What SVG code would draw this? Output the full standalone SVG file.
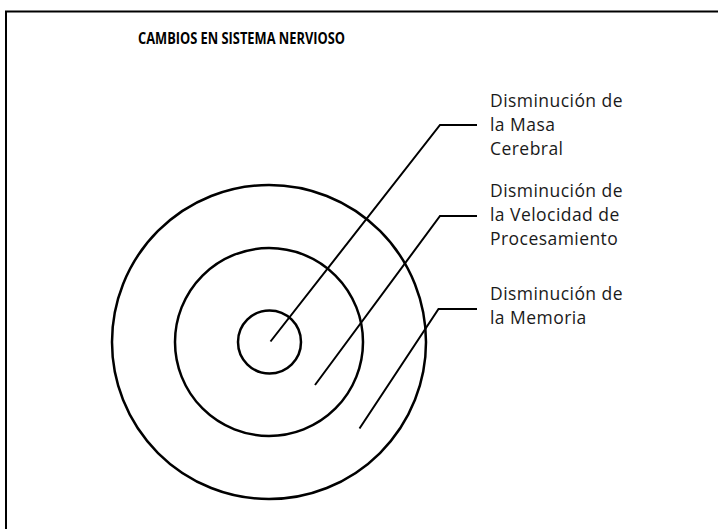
<svg xmlns="http://www.w3.org/2000/svg" width="718" height="529" viewBox="0 0 718 529">
<style>
.ring{fill:none;stroke:#000;stroke-width:2.5}
.conn{fill:none;stroke:#000;stroke-width:2}
.lbl{font-family:"Open Sans","Liberation Sans",sans-serif;font-size:17.5px;letter-spacing:0.45px;fill:#1a1a1a}
.title{font-family:"Open Sans","Liberation Sans",sans-serif;font-size:16.5px;font-weight:bold;fill:#000}
</style>
<rect width="718" height="529" fill="#fff"/>
<path d="M6,540 V11.5 H730" fill="none" stroke="#000" stroke-width="2"/>
<text class="title" x="138" y="43.5" textLength="207" lengthAdjust="spacingAndGlyphs">CAMBIOS EN SISTEMA NERVIOSO</text>
<g id="outer"><circle class="ring" cx="269" cy="342" r="157"/></g>
<g id="middle"><circle class="ring" cx="269" cy="342" r="94"/></g>
<g id="inner"><circle class="ring" cx="269.5" cy="342" r="31.5"/></g>
<g id="connectors">
<polyline class="conn" points="270.5,341.5 440,125 477,125"/>
<polyline class="conn" points="315,385 440,216 477,216"/>
<polyline class="conn" points="359.5,428.5 438.5,309 477,309"/>
</g>
<g id="label-masa">
<text class="lbl" x="490" y="107">Disminución de</text>
<text class="lbl" x="490" y="131">la Masa</text>
<text class="lbl" x="490" y="155">Cerebral</text>
</g>
<g id="label-velocidad">
<text class="lbl" x="490" y="197">Disminución de</text>
<text class="lbl" x="490" y="221">la Velocidad de</text>
<text class="lbl" x="490" y="245">Procesamiento</text>
</g>
<g id="label-memoria">
<text class="lbl" x="490" y="300">Disminución de</text>
<text class="lbl" x="490" y="324">la Memoria</text>
</g>
</svg>
